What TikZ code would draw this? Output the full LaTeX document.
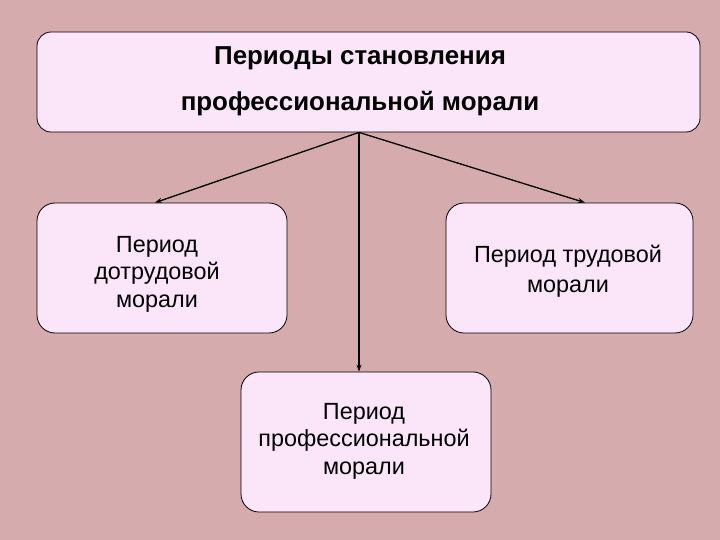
\documentclass[tikz,border=0pt]{standalone}
\usepackage{fontspec}
\setmainfont{Liberation Sans}
\usetikzlibrary{calc,arrows.meta}
\definecolor{bgpink}{HTML}{D6ABAD}
\definecolor{boxpink}{HTML}{FAE6F8}
\tikzset{
  box/.style={draw=black, line width=0.8pt, fill=boxpink, rounded corners=18pt, inner sep=0pt},
  label/.style={align=center, inner sep=0pt, font=\fontsize{23.4}{27.5}\selectfont},
  link/.style={draw=black, line width=1.3pt, -{Stealth[length=7pt,width=5pt]}}
}
\begin{document}
\begin{tikzpicture}[x=1pt,y=-1pt]
\fill[bgpink] (0,0) rectangle (720,540);
\useasboundingbox (0,0) rectangle (720,540);
\node[box, rounded corners=14pt, minimum width=663pt, minimum height=100pt] (top) at (368.5,82) {};
\node[label, font=\bfseries\fontsize{25.9}{46}\selectfont] (toptext) at (360,81) {Периоды становления\\профессиональной морали};
\node[box, minimum width=250pt, minimum height=130pt] (left) at (162,268) {};
\node[label] (lefttext) at (157,274) {Период\\дотрудовой\\морали};
\node[box, minimum width=247pt, minimum height=130pt] (right) at (569.5,268) {};
\node[label, font=\fontsize{23.4}{30}\selectfont] (righttext) at (568,271) {Период трудовой\\морали};
\node[box, minimum width=250pt, minimum height=140pt] (bottom) at (366,442) {};
\node[label] (bottomtext) at (364,441) {Период\\профессиональной\\морали};
\coordinate (s) at ($(top.south)+(-9.5,0)$);
\draw[link] (s) -- ($(left.north)+(-7,0)$);
\draw[link] (s) -- ($(right.north)+(15.5,0)$);
\draw[link] (s) -- ($(bottom.north)+(-7,0)$);
\end{tikzpicture}
\end{document}
